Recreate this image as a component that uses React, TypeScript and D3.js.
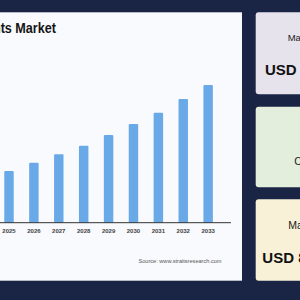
import React from "react";
import * as d3 from "d3";

const years = ["2025", "2026", "2027", "2028", "2029", "2030", "2031", "2032", "2033"];
const marketValues = [3.75, 4.36, 4.97, 5.59, 6.37, 7.17, 7.99, 8.98, 10.0];
const titleText = "Dental Implants Market";
const sourceText = "Source: www.straitsresearch.com";
const cardTexts = [
  { label: "Market Size", value: "USD 3.7 Billion" },
  { label: "CAGR", value: "" },
  { label: "Market Size", value: "USD 8.9 Billion" },
];

const W = 300;
const H = 300;

export default function App() {
  const baseline = 222.7;
  const x = d3
    .scaleBand()
    .domain(years)
    .range([-3.45, 220.6])
    .paddingInner(0.62)
    .paddingOuter(0.31);
  const y = d3.scaleLinear().domain([0, 10]).range([baseline, 85]);

  const cards = [
    { top: 12.3, bottom: 94.3, fill: "#e6e3ed" },
    { top: 106.7, bottom: 187.3, fill: "#e3eedc" },
    { top: 199.3, bottom: 280.7, fill: "#f8f0d7" },
  ];

  return (
    <svg
      width={W}
      height={H}
      style={{ position: "fixed", left: 0, top: 0 }}
      fontFamily="Helvetica, Arial, 'Liberation Sans', sans-serif"
    >
      <rect x={0} y={0} width={W} height={H} fill="#1a2445" />
      {/* chart panel */}
      <rect x={-10} y={12.3} width={252} height={268.4} fill="#f8fafd" />
      {/* title is clipped at the left, font drawn a bit narrow */}
      <g transform="translate(56,33.3) scale(0.87,1)">
        <text x={0} y={0} textAnchor="end" fontSize={14.5} fontWeight="bold" fill="#151515">
          {titleText}
        </text>
      </g>
      {years.map((yr, i) => (
        <rect
          key={yr}
          x={x(yr)}
          y={y(marketValues[i])}
          width={x.bandwidth()}
          height={baseline - y(marketValues[i])}
          rx={1}
          fill="#6aa9e8"
        />
      ))}
      <line x1={0} x2={231} y1={baseline} y2={baseline} stroke="#333" strokeWidth={1} />
      {years.map((yr) => (
        <text
          key={yr}
          x={(x(yr) as number) + x.bandwidth() / 2}
          y={233.3}
          textAnchor="middle"
          fontSize={6}
          fontWeight="bold"
          fill="#444"
        >
          {yr}
        </text>
      ))}
      <text x={221.5} y={263} textAnchor="end" fontSize={5.6} fill="#555">
        {sourceText}
      </text>
      {/* side cards */}
      {cards.map((c, i) => (
        <rect
          key={i}
          x={255.7}
          y={c.top}
          width={80}
          height={c.bottom - c.top}
          rx={3}
          fill={c.fill}
        />
      ))}
      <text x={287.7} y={40.7} fontSize={9.5} fill="#222">
        {cardTexts[0].label}
      </text>
      <text x={265} y={75} fontSize={15} fontWeight="bold" fill="#111">
        {cardTexts[0].value}
      </text>
      <text x={294.3} y={165} fontSize={10.5} fill="#222">
        {cardTexts[1].label}
      </text>
      <text x={288.3} y={229} fontSize={10.5} fill="#222">
        {cardTexts[2].label}
      </text>
      <text x={262.3} y={262.7} fontSize={15} fontWeight="bold" fill="#111">
        {cardTexts[2].value}
      </text>
    </svg>
  );
}
